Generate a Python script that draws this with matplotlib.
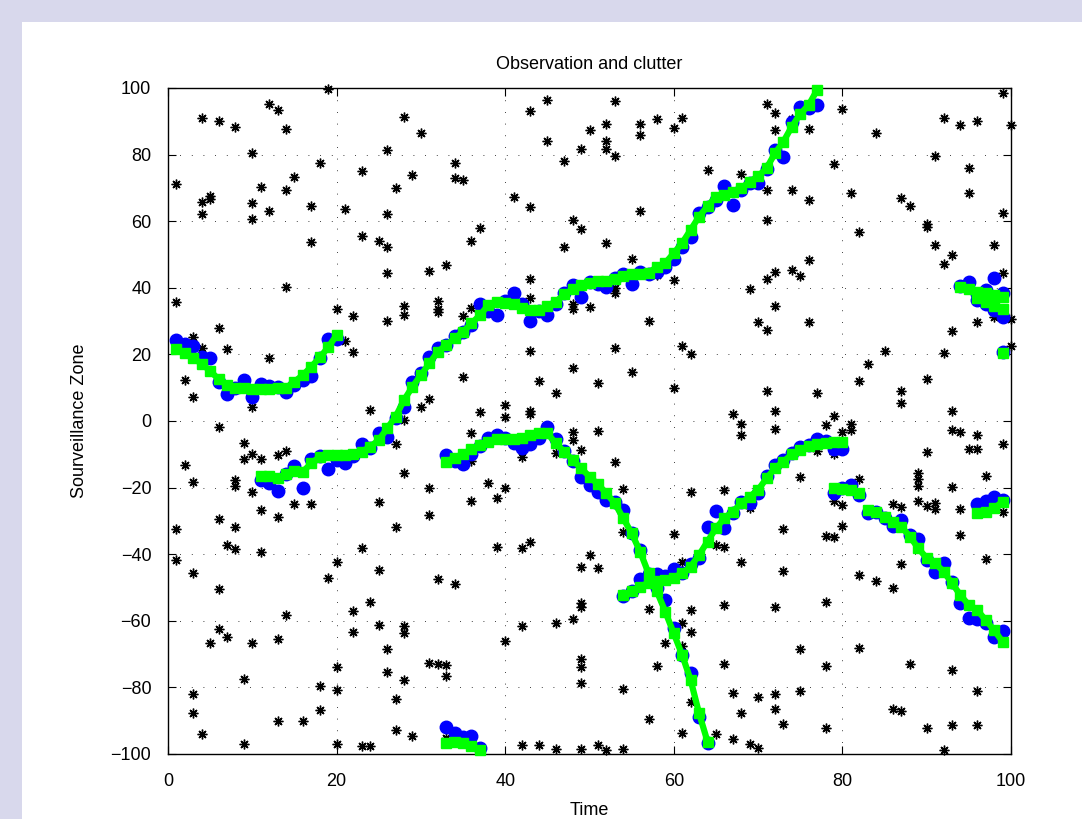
import numpy as np
import matplotlib
matplotlib.use("Agg")
import matplotlib.pyplot as plt
from matplotlib.patches import Rectangle

plt.rcParams['font.family'] = ['Liberation Sans', 'DejaVu Sans']
plt.rcParams['axes.unicode_minus'] = True

# clutter values, grouped by time step
clutter = {
    1: [71.3, 35.8, -32.5, -41.7],
    2: [12.3, -13.2],
    3: [25.1, 7.3, -18.2, -45.5, -82.1, -87.8],
    4: [90.9, 65.7, 62.2, 21.8, -94.1],
    5: [67.7, 66.6, -66.8],
    6: [90.1, 27.8, -1.9, -29.4, -50.5, -62.5],
    7: [21.5, -37.2, -65.0],
    8: [88.2, -17.7, -19.5, -31.7, -38.5],
    9: [-6.7, -11.4, -77.5, -97.0],
    10: [80.4, 65.6, 60.8, 4.1, -9.9, -21.2, -66.8],
    11: [70.2, -11.4, -26.7, -39.4],
    12: [95.1, 63.1, 19.0],
    13: [93.4, -10.1, -28.9, -65.5, -90.0],
    14: [87.8, 69.4, 40.3, -9.1, -58.3],
    15: [73.4, -24.9],
    16: [-90.0],
    17: [64.6, 53.8, -24.9],
    18: [77.6, -79.5, -86.8],
    19: [99.6, -47.2],
    20: [33.5, -42.4, -73.8, -80.8, -97.0],
    21: [63.8, 24.1],
    22: [31.6, 20.8, -57.1, -63.3],
    23: [75.2, 55.7, -38.2, -97.5],
    24: [3.3, -54.4, -97.6],
    25: [54.0, -24.2, -44.7, -61.3],
    26: [81.4, 62.2, 52.4, 44.4, 30.1, -68.6, -75.5],
    27: [69.9, -6.9, -31.9, -83.6, -92.8],
    28: [91.2, 34.5, 31.8, 0.3, -15.5, -61.6, -63.8, -77.8],
    29: [73.8, -94.6],
    30: [86.6, 4.1],
    31: [45.1, 6.5, -20.2, -28.2, -72.6],
    32: [36.1, 33.5, 32.8, -47.5, -73.0],
    33: [46.7, -73.3, -76.5, -95.3],
    34: [77.6, 73.0, -49.0],
    35: [72.5, 31.6, 13.3],
    36: [54.2, 33.8, -3.5, -11.9, -24.0],
    37: [57.9, 2.6],
    38: [-18.5],
    39: [-23.2, -37.7],
    40: [4.8, 1.1, -20.0, -66.1],
    41: [67.2],
    42: [-10.9, -38.2, -61.5, -97.3],
    43: [93.1, 64.2, 42.6, 36.8, 21.0, 3.1, 2.1, -36.4],
    44: [12.1, -97.3],
    45: [96.4, 84.2],
    46: [8.3, -9.7, -60.8, -98.5],
    47: [78.0, 52.4],
    48: [60.4, 35.1, 33.5, 15.8, -3.2, -5.7, -59.5],
    49: [81.6, 57.6, -8.7, -43.7, -54.7, -55.9, -71.6, -73.8, -78.8, -98.5],
    50: [87.4, 34.3, -40.2],
    51: [11.3, -3.0, -44.2, -97.3],
    52: [89.2, 84.2, 81.7, 53.4, -98.8],
    53: [96.1, 79.7, 39.9, 38.4, 21.8, -12.2],
    54: [-20.5, -33.4, -80.6, -98.5],
    55: [48.6, 14.8],
    56: [89.1, 85.9, 63.1],
    57: [30.1, -56.6, -89.5],
    58: [90.6, 43.8, -73.6],
    59: [-66.8],
    60: [87.9, 42.3, 9.8, -34.0],
    61: [90.9, 22.5, -42.2, -60.8, -67.5, -93.6],
    62: [20.0, -21.4, -56.8, -63.5, -84.5],
    64: [75.4],
    65: [-37.2, -94.1],
    66: [-20.7, -37.9, -55.3, -73.0],
    67: [2.1, -81.6, -95.5],
    68: [74.2, -0.9, -4.2, -42.4, -87.7],
    69: [39.5, -26.2, -97.1],
    70: [29.8, -82.9, -98.3],
    71: [95.2, 69.4, 60.4, 42.5, 27.3, 9.1],
    72: [92.6, 87.4, 44.8, 34.5, 3.0, -2.5, -55.8, -81.9, -86.4],
    73: [-32.5, -44.9, -90.9],
    74: [90.6, 69.4, 45.3],
    75: [43.5, -16.7, -68.6, -81.1],
    76: [87.6, 66.4, 48.3, 29.8],
    77: [8.3, -8.9],
    78: [-1.2, -34.4, -54.4, -73.6, -92.3],
    79: [77.1, 1.6, -9.9, -24.0, -34.9],
    80: [93.6, -3.2, -25.2, -31.5],
    81: [68.4, -0.9, -2.7],
    82: [56.7, 12.1, -17.4, -46.2, -68.3],
    83: [17.0],
    84: [86.4, -48.0],
    85: [21.1],
    86: [-25.0, -50.2, -86.6],
    87: [67.1, 9.1, 5.5, -25.9, -43.0, -87.0],
    88: [64.6, -73.1],
    89: [-15.7, -17.5, -19.5, -24.0],
    90: [59.1, 58.3, 12.5, -9.4, -25.5, -92.3],
    91: [79.7, 52.9, -24.5, -26.5],
    92: [91.1, 47.1, 20.5, -98.8],
    93: [49.8, 27.1, 3.0, -2.7, -19.7, -74.8, -91.3],
    94: [88.9, -3.4, -26.5, -34.2],
    95: [76.1, 68.6, -8.5],
    96: [90.1, 29.8, -4.2, -8.5, -81.1, -91.3],
    97: [-16.5, -41.5],
    98: [52.9, 31.3],
    99: [98.6, 62.6, 44.4, -6.9, -27.4],
    100: [88.9, 30.6, 22.6],
}

# tracks: start time, measurements (blue), estimates (green)
track_a_start = 1
track_a_meas = [24.3, 23.0, 22.5, 19.3, 18.8, 11.8, 8.0, 9.8, 12.3, 7.1,
                11.0, 10.5, 10.1, 8.8, 10.8, 12.3, 13.5, 18.8, 24.6, 24.5]
track_a_est = [21.5, 20.5, 19.0, 17.1, 15.1, 12.5, 10.8, 10.0, 9.8, 9.5,
               9.5, 9.5, 9.8, 10.0, 11.8, 13.8, 16.3, 19.1, 22.1, 25.8]

track_b_start = 11
track_b_meas = [-17.7, -18.5, -21.0, -15.9, -13.4, -20.0, -11.5, -10.5, -14.4, -11.7,
                -12.5, -10.5, -6.9, -8.0, -3.6, -4.7, 0.8, 4.3, 11.8, 14.3,
                19.1, 21.8, 22.8, 25.5, 26.8, 28.8, 35.1, 33.0, 31.8, 36.0,
                38.3, 35.0, 30.1, 33.0, 31.8, 35.0, 38.3, 40.8, 37.3, 41.8,
                41.0, 40.2, 42.8, 44.0, 41.1, 44.8, 44.0, 44.8, 46.2, 48.6,
                52.4, 55.4, 62.4, 64.4, 66.5, 70.6, 64.9, 69.4, 71.5, 71.5,
                75.6, 81.4, 79.2, 89.9, 94.3, 94.0, 95.0]
track_b_est = [-16.5, -16.5, -17.0, -16.0, -15.0, -15.2, -12.7, -10.7, -10.2, -10.2,
               -10.2, -10.0, -9.2, -7.7, -5.7, -2.2, 1.3, 6.3, 10.3, 13.8,
               17.3, 20.8, 22.8, 24.8, 26.8, 29.3, 31.8, 34.8, 35.8, 35.5,
               35.0, 33.8, 33.3, 33.3, 34.4, 35.8, 38.0, 39.5, 40.8, 41.5,
               42.0, 42.0, 42.5, 43.5, 44.0, 44.0, 44.5, 46.3, 47.5, 50.4,
               53.5, 57.4, 61.4, 64.5, 67.4, 68.0, 68.8, 69.9, 71.9, 73.5,
               75.9, 80.4, 83.9, 88.4, 92.2, 94.9, 99.4]

track_c_start = 33
track_c_meas = [-10.2, -12.0, -12.9, -10.0, -7.5, -5.2, -4.2, -5.0, -6.5, -8.2,
                -7.0, -5.0, -1.9, -5.5, -9.0, -12.0, -16.7, -19.2, -21.2, -23.7,
                -24.2, -26.7, -33.5, -38.7, -46.0, -50.0, -53.8, -62.3, -70.3, -75.8,
                -89.0, -96.6]
track_c_est = [-12.2, -11.0, -9.9, -8.5, -7.2, -6.2, -5.5, -5.5, -5.3, -5.0,
               -4.2, -3.7, -3.7, -6.7, -9.2, -11.7, -14.2, -16.7, -19.0, -21.7,
               -24.7, -29.2, -33.7, -39.2, -45.7, -51.2, -57.3, -63.8, -70.3, -77.8,
               -87.8, -96.3]

track_d_start = 54
track_d_meas = [-52.6, -51.0, -47.5, -48.0, -46.0, -46.5, -44.5, -45.7, -43.0, -41.0,
                -31.7, -26.9, -32.2, -27.7, -24.2, -24.7, -21.5, -16.5, -13.2, -11.7,
                -9.7, -7.7, -7.3, -5.5, -6.0, -8.5, -8.5]
track_d_est = [-52.3, -51.0, -49.7, -48.6, -48.0, -47.7, -47.0, -45.7, -43.7, -40.2,
               -36.2, -32.2, -29.2, -27.2, -24.7, -22.7, -20.7, -17.2, -14.2, -12.2,
               -10.0, -8.7, -7.5, -6.9, -6.6, -6.3, -6.2]

track_e_start = 79
track_e_meas = [-21.7, -20.0, -19.2, -22.2]
track_e_est = [-20.2, -20.5, -20.8, -21.5]

track_f_start = 83
track_f_meas = [-27.7, -27.2, -29.2, -31.5, -29.7, -34.2, -35.5, -41.7, -45.2, -42.7,
                -48.2, -54.7, -59.2, -59.5, -60.8, -65.0, -63.1]
track_f_est = [-26.7, -27.4, -28.7, -30.2, -31.7, -34.7, -38.2, -41.2, -42.7, -45.2,
               -48.7, -52.3, -55.3, -56.8, -59.8, -62.8, -66.3]

track_g_start = 94
track_g_meas = [40.6, 41.8, 38.0, 39.3, 42.8, 38.3]
track_g_est = [40.3, 39.5, 38.8, 38.3, 37.8, 37.3]

track_h_start = 96
track_h_meas = [36.3, 35.0, 33.3, 31.3]
track_h_est = [37.0, 35.8, 34.5, 33.5]

track_i_start = 99
track_i_meas = [20.8]
track_i_est = [20.4]

track_j_start = 33
track_j_meas = [-92.0, -93.8, -94.8, -94.6, -98.3]
track_j_est = [-96.6, -96.5, -96.6, -97.6, -98.8]

track_k_start = 96
track_k_meas = [-24.9, -23.9, -22.9, -23.7]
track_k_est = [-27.7, -27.2, -26.2, -24.2]

tracks = [
    (track_a_start, track_a_meas, track_a_est),
    (track_b_start, track_b_meas, track_b_est),
    (track_c_start, track_c_meas, track_c_est),
    (track_d_start, track_d_meas, track_d_est),
    (track_e_start, track_e_meas, track_e_est),
    (track_f_start, track_f_meas, track_f_est),
    (track_g_start, track_g_meas, track_g_est),
    (track_h_start, track_h_meas, track_h_est),
    (track_i_start, track_i_meas, track_i_est),
    (track_j_start, track_j_meas, track_j_est),
    (track_k_start, track_k_meas, track_k_est),
]

fig = plt.figure(figsize=(10.82, 8.19), dpi=100)
fig.patch.set_facecolor('#d8d8ec')
fig.patches.append(Rectangle((22 / 1082, 0), 1, 1 - 22 / 819,
                             transform=fig.transFigure, facecolor='white',
                             edgecolor='none', zorder=-1))
ax = fig.add_axes([168 / 1082, 1 - 754 / 819, 843 / 1082, 666 / 819])

ct = [t for t, vals in clutter.items() for _ in vals]
cy = [v for vals in clutter.values() for v in vals]
# matlab style asterisk
ax.plot(ct, cy, linestyle='none', marker=(8, 2, 0), color='black',
        markersize=7, markeredgewidth=1.0, clip_on=False, zorder=2)

for start, meas, est in tracks:
    t = np.arange(start, start + len(meas))
    ax.plot(t, meas, linestyle='none', marker='o', color='#0000ff',
            markeredgecolor='#0000ff', markersize=9, clip_on=False, zorder=3)
for start, meas, est in tracks:
    t = np.arange(start, start + len(est))
    ax.plot(t, est, '-', color='#00ff00', linewidth=4.5, marker='s',
            markersize=7, markerfacecolor='#00ff00', markeredgecolor='#00ff00',
            clip_on=False, zorder=4)

ax.set_xlim(0, 100)
ax.set_ylim(-100, 100)
ax.set_xticks(np.arange(0, 101, 20))
ax.set_yticks(np.arange(-100, 101, 20))
ax.grid(True, linestyle=(0, (1, 13)), color='black', linewidth=0.6)
ax.tick_params(direction='in', top=True, right=True, labelsize=13, length=6)
ax.tick_params(axis='x', pad=14)
ax.tick_params(axis='y', pad=12)
for s in ax.spines.values():
    s.set_linewidth(1.0)
ax.set_title('Observation and clutter', fontsize=13, pad=14)
ax.set_xlabel('Time', fontsize=13, labelpad=8)
ax.set_ylabel('Sourveillance Zone', fontsize=13, labelpad=16)

fig.savefig('out.png', dpi=100, facecolor=fig.get_facecolor())
